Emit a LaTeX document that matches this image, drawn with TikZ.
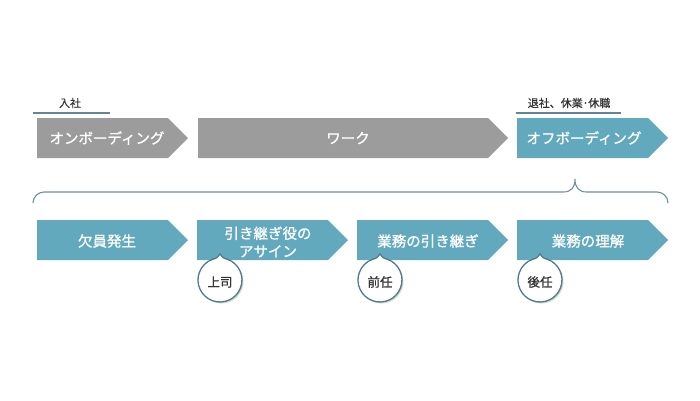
\documentclass[tikz,border=0pt]{standalone}
\usepackage{fontspec}
\setmainfont{Noto Sans CJK JP}
\newfontfamily\medfont[FakeBold=0.9]{Noto Sans CJK JP}
\newfontfamily\lblfont[FakeBold=0.5]{Noto Sans CJK JP}
\usetikzlibrary{shadows}
\definecolor{grayarr}{HTML}{9C9C9C}
\definecolor{tealarr}{HTML}{62A9BE}
\definecolor{lineteal}{HTML}{5E8893}
\definecolor{bracec}{HTML}{70909A}
\definecolor{bubble}{HTML}{4E7C89}
\definecolor{txt}{HTML}{333333}
\newcommand\chev[4]{% x1, x2(tip), ytop, fill
  \fill[#4] (#1,#3) -- (#2-20,#3) -- (#2,#3-20) -- (#2-20,#3-40) -- (#1,#3-40) -- cycle;
}
\newcommand\bubl[2]{% cx, cy
  \draw[bubbleline] (#1-7.5,#2+20.7) .. controls (#1-3,#2+22) .. (#1,#2+26)
     .. controls (#1+3,#2+22) .. (#1+7.5,#2+20.7) arc (70:-250:22) -- cycle;
}
\begin{document}
\begin{tikzpicture}[x=1pt,y=1pt,
  arrtext/.style={text=white,font=\medfont\fontsize{14.5}{18}\selectfont,align=center,inner sep=0pt},
  toplabel/.style={text=txt,font=\lblfont\fontsize{11}{13}\selectfont,inner sep=0pt},
  undl/.style={draw=lineteal,line width=1.4pt},
  bubbleline/.style={draw=bubble,line width=1.3pt,fill=white,drop shadow={shadow xshift=1.5pt,shadow yshift=-1.5pt,opacity=0.35}},
  bubtext/.style={text=txt,font=\medfont\fontsize{12.5}{14}\selectfont,inner sep=0pt}]
\useasboundingbox (0,0) rectangle (700,-400);
% top row
\chev{37}{188}{-118}{grayarr}
\chev{198}{508}{-118}{grayarr}
\chev{517}{668}{-118}{tealarr}
\node[arrtext] (on) at (107,-138) {オンボーディング};
\node[arrtext] (work) at (348,-138) {ワーク};
\node[arrtext] (off) at (584,-138) {オフボーディング};
% top labels
\node[toplabel] (nyusha) at (70,-103) {入社};
\coordinate (u1a) at (33,-113);
\coordinate (u1b) at (110,-113);
\draw[undl] (u1a) -- (u1b);
\node[toplabel] (taisha) at (569,-103) {退社、休業･休職};
\coordinate (u2a) at (516,-113);
\coordinate (u2b) at (621,-113);
\draw[undl] (u2a) -- (u2b);
% brace
\draw[bracec,line width=1.1pt] (33,-203) arc (180:90:11) -- (563,-192)
  .. controls (571,-192) and (575,-188) .. (575,-179)
  .. controls (575,-188) and (579,-192) .. (587,-192) -- (657,-192) arc (90:0:11);
% bottom row
\chev{37}{188}{-220}{tealarr}
\chev{197}{348}{-220}{tealarr}
\chev{357}{508}{-220}{tealarr}
\chev{517}{668}{-220}{tealarr}
\node[arrtext] (ketsu) at (107,-241) {欠員発生};
\node[arrtext] (assign) at (268,-242) {引き継ぎ役の\\アサイン};
\node[arrtext] (hikitsugi) at (428,-241) {業務の引き継ぎ};
\node[arrtext] (rikai) at (588,-241) {業務の理解};
% bubbles
\bubl{220}{-280}
\bubl{380}{-280}
\bubl{540}{-280}
\node[bubtext] (joshi) at (220,-282) {上司};
\node[bubtext] (zennin) at (380,-282) {前任};
\node[bubtext] (konin) at (540,-282) {後任};
\end{tikzpicture}
\end{document}
